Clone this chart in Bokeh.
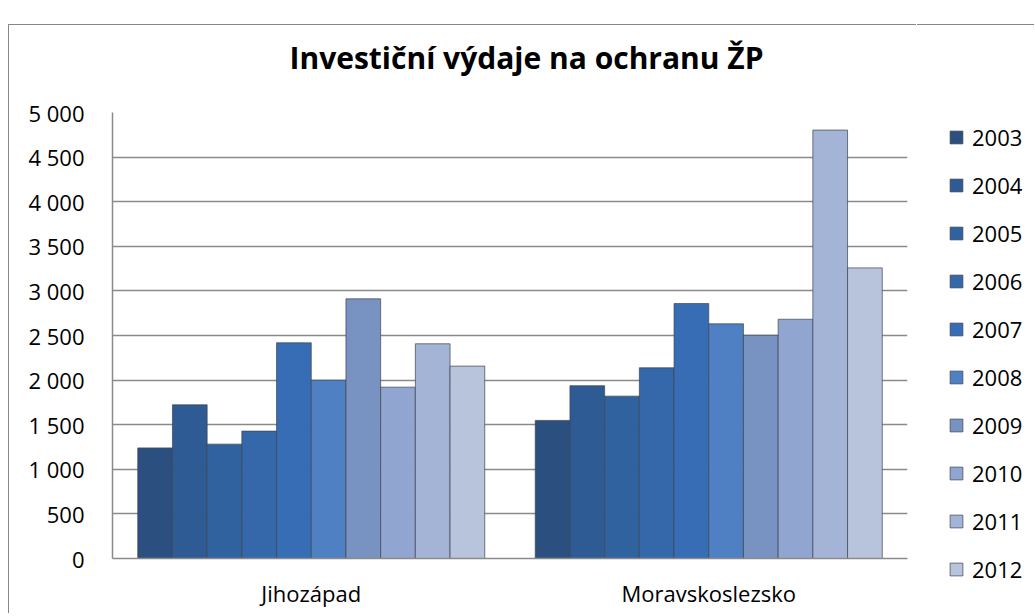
from bokeh.plotting import figure
from bokeh.models import (ColumnDataSource, FactorRange, Legend, LegendItem,
                          FixedTicker, CustomJSTickFormatter, Title, Range1d)
from bokeh.transform import dodge
from bokeh.embed import file_html
from bokeh.resources import INLINE

# ---- data ----
regions = ["Jihozápad", "Moravskoslezsko"]
years = ["2003", "2004", "2005", "2006", "2007", "2008", "2009", "2010", "2011", "2012"]
v2003 = [1240, 1548]
v2004 = [1723, 1937]
v2005 = [1282, 1820]
v2006 = [1428, 2138]
v2007 = [2418, 2858]
v2008 = [2000, 2631]
v2009 = [2911, 2503]
v2010 = [1921, 2682]
v2011 = [2407, 4803]
v2012 = [2157, 3258]
series = [v2003, v2004, v2005, v2006, v2007, v2008, v2009, v2010, v2011, v2012]
y_ticks = [0, 500, 1000, 1500, 2000, 2500, 3000, 3500, 4000, 4500, 5000]
title_text = "Investiční výdaje na ochranu ŽP"

colors = ["#2b5080", "#2e5b94", "#3062a0", "#3468ab", "#376db4",
          "#4f80c4", "#7892c2", "#90a5cf", "#a4b4d6", "#b8c3dc"]

data = {"region": regions}
for yr, vals in zip(years, series):
    data["y" + yr] = vals
source = ColumnDataSource(data)

FONT = "Open Sans"
GRID = "#8a8a8a"
BORDER = "1px solid #878787"

p = figure(x_range=FactorRange(*regions), y_range=(0, 5000),
           width=908, height=589, output_backend="svg", toolbar_location=None,
           min_border_left=103, min_border_right=10, min_border_top=87,
           min_border_bottom=56, margin=(24, 0, 0, 8), title=None,
           styles={"border-left": BORDER, "border-top": BORDER})

# spacer between frame and title, then the title itself
spacer = Title(text=" ", text_font=FONT, text_font_size="22px", standoff=3)
p.add_layout(spacer, "above")
title = Title(text=title_text, text_font=FONT, text_font_size="30px",
              text_font_style="bold", text_color="black", align="left",
              offset=177, standoff=0)
p.add_layout(title, "above")

bar_w = 0.0873
for i, yr in enumerate(years):
    off = (i - 4.5) * bar_w
    p.vbar(x=dodge("region", off, range=p.x_range), top="y" + yr, width=bar_w,
           source=source, fill_color=colors[i], line_color="#3c4550",
           line_alpha=0.7, line_width=1)

# axes
p.yaxis.ticker = FixedTicker(ticks=y_ticks)
p.yaxis.formatter = CustomJSTickFormatter(
    code=r"return tick.toString().replace(/\B(?=(\d{3})+(?!\d))/g, ' ');")
p.yaxis.major_label_text_font = FONT
p.yaxis.major_label_text_font_size = "22px"
p.yaxis.major_label_text_color = "black"
p.yaxis.major_label_standoff = 22
p.yaxis.major_tick_line_color = None
p.yaxis.minor_tick_line_color = None
p.yaxis.axis_line_color = GRID
p.yaxis.axis_line_width = 1.5

p.xaxis.major_label_text_font = FONT
p.xaxis.major_label_text_font_size = "22px"
p.xaxis.major_label_text_color = "black"
p.xaxis.major_label_standoff = 13
p.xaxis.major_tick_line_color = None
p.xaxis.minor_tick_line_color = None
p.xaxis.axis_line_color = GRID
p.xaxis.axis_line_width = 1.5

p.xgrid.grid_line_color = None
p.ygrid.grid_line_color = GRID
p.ygrid.grid_line_width = 1.5
p.outline_line_color = None
p.background_fill_color = "white"
p.border_fill_color = "white"

# ---- legend panel (separate figure placed to the right of the chart) ----
leg = figure(width=117, height=589, output_backend="svg", toolbar_location=None,
             min_border=0, x_axis_location=None, y_axis_location=None,
             x_range=Range1d(10, 11), y_range=Range1d(10, 11), margin=(0, 0, 0, 0),
             styles={"position": "absolute", "left": "917px", "top": "24px",
                     "border-top": BORDER})
leg.grid.visible = False
leg.outline_line_color = None
leg.border_fill_color = "white"
leg.background_fill_color = "white"
items = []
for i, yr in enumerate(years):
    # proxy glyphs (outside the visible range) that only provide legend swatches
    r = leg.vbar(x=[0], top=[0], width=0.5, fill_color=colors[i],
                 line_color="#3c4550", line_alpha=0.7, line_width=1)
    items.append(LegendItem(label=yr, renderers=[r]))

legend = Legend(items=items, location=(31, 30), padding=0, margin=0,
                border_line_color=None, background_fill_alpha=0,
                glyph_width=16, glyph_height=16, label_standoff=8,
                label_height=30, spacing=18,
                label_text_font=FONT, label_text_font_size="22px",
                label_text_color="black")
leg.add_layout(legend)

open("out.html", "w").write(file_html([p, leg], INLINE))
